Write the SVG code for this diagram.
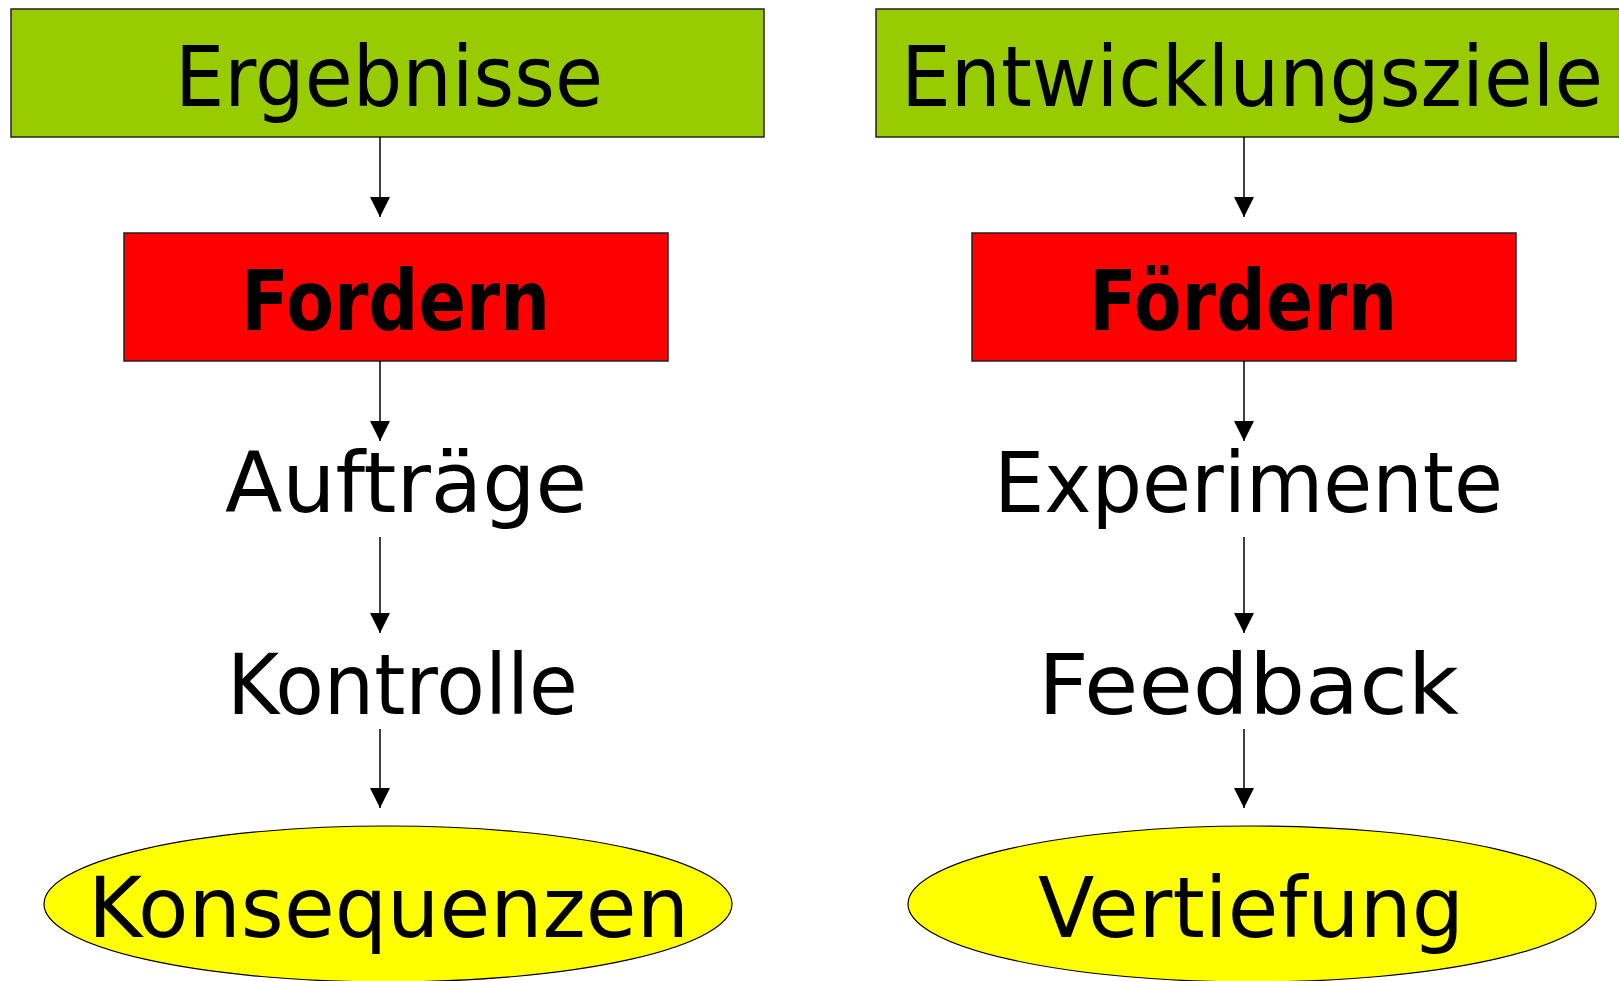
<svg xmlns="http://www.w3.org/2000/svg" width="1619" height="981" viewBox="0 0 1619 981">
<style>
.t{font-family:"DejaVu Sans","Liberation Sans",sans-serif;font-size:84px;fill:#000}
.b{font-weight:bold}
.box{stroke:#222;stroke-width:1.5}
.ell{fill:#FFFF00;stroke:#000;stroke-width:1.2}
.con line{stroke:#000;stroke-width:1.5}
</style>
<defs>
<marker id="ah" markerUnits="userSpaceOnUse" markerWidth="20" markerHeight="20" refX="20" refY="10" orient="auto" viewBox="0 0 20 20">
<path d="M0,0 L20,10 L0,20 Z" fill="#000"/>
</marker>
</defs>
<rect width="1619" height="981" fill="#fff"/>
<g id="ergebnisse">
<rect class="box" x="11" y="9" width="753" height="128" fill="#99CC00"/>
<text class="t" x="175" y="106" textLength="428" lengthAdjust="spacingAndGlyphs">Ergebnisse</text>
</g>
<g id="entwicklungsziele">
<rect class="box" x="876" y="9" width="760" height="128" fill="#99CC00"/>
<text class="t" x="901" y="106" textLength="702" lengthAdjust="spacingAndGlyphs">Entwicklungsziele</text>
</g>
<g id="fordern">
<rect class="box" x="124" y="233" width="544" height="128" fill="#FF0000"/>
<text class="t b" x="241" y="330" textLength="309" lengthAdjust="spacingAndGlyphs">Fordern</text>
</g>
<g id="foerdern">
<rect class="box" x="972" y="233" width="544" height="128" fill="#FF0000"/>
<text class="t b" x="1089" y="330" textLength="308" lengthAdjust="spacingAndGlyphs">Fördern</text>
</g>
<g id="auftraege">
<text class="t" x="225" y="512" textLength="362" lengthAdjust="spacingAndGlyphs">Aufträge</text>
</g>
<g id="experimente">
<text class="t" x="994" y="512" textLength="509" lengthAdjust="spacingAndGlyphs">Experimente</text>
</g>
<g id="kontrolle">
<text class="t" x="227" y="714" textLength="351" lengthAdjust="spacingAndGlyphs">Kontrolle</text>
</g>
<g id="feedback">
<text class="t" x="1038" y="714" textLength="421" lengthAdjust="spacingAndGlyphs">Feedback</text>
</g>
<g id="konsequenzen">
<ellipse class="ell" cx="388" cy="904" rx="344" ry="78"/>
<text class="t" x="88" y="937" textLength="601" lengthAdjust="spacingAndGlyphs">Konsequenzen</text>
</g>
<g id="vertiefung">
<ellipse class="ell" cx="1252" cy="904" rx="344" ry="78"/>
<text class="t" x="1038" y="937" textLength="426" lengthAdjust="spacingAndGlyphs">Vertiefung</text>
</g>
<g id="connectors" class="con">
<line x1="380" y1="137" x2="380" y2="217" marker-end="url(#ah)"/>
<line x1="380" y1="361" x2="380" y2="441" marker-end="url(#ah)"/>
<line x1="380" y1="537" x2="380" y2="633" marker-end="url(#ah)"/>
<line x1="380" y1="729" x2="380" y2="808" marker-end="url(#ah)"/>
<line x1="1244" y1="137" x2="1244" y2="217" marker-end="url(#ah)"/>
<line x1="1244" y1="361" x2="1244" y2="441" marker-end="url(#ah)"/>
<line x1="1244" y1="537" x2="1244" y2="633" marker-end="url(#ah)"/>
<line x1="1244" y1="729" x2="1244" y2="808" marker-end="url(#ah)"/>
</g>
</svg>
